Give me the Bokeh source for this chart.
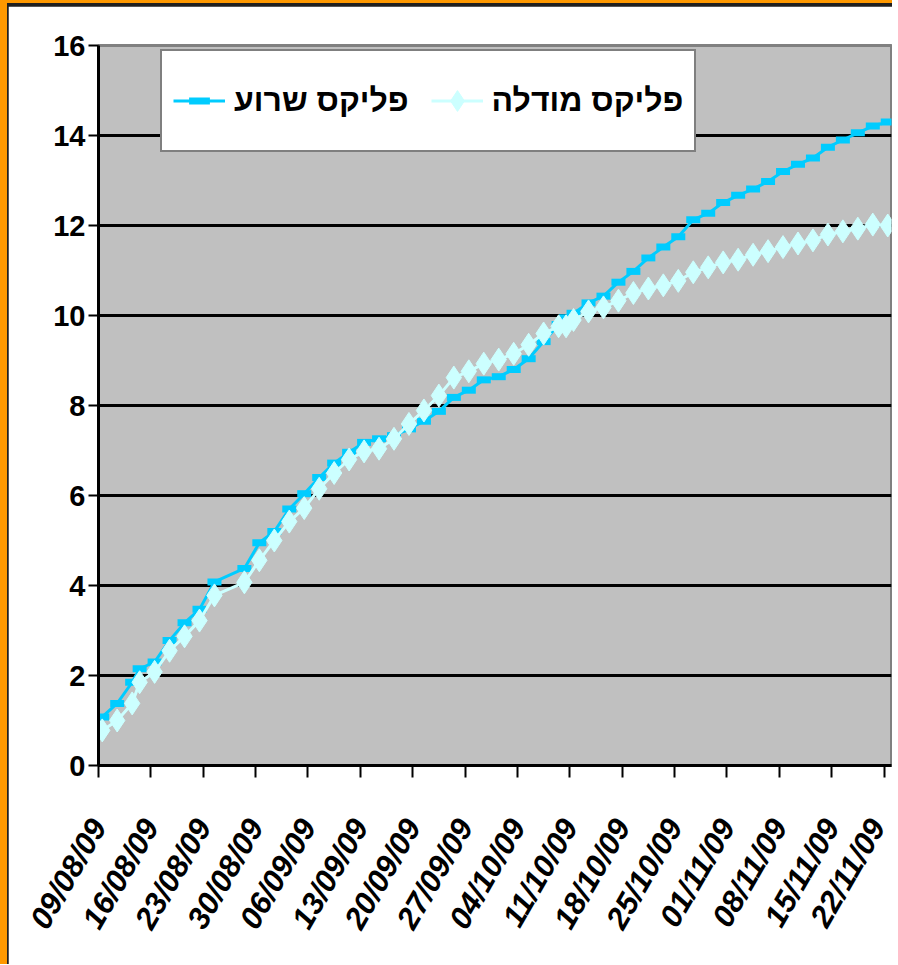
import datetime as dt
from bokeh.plotting import figure
from bokeh.models import Range1d, FixedTicker, Legend, LegendItem
from bokeh.embed import file_html
from bokeh.resources import INLINE

series_a_name = "פליקס שרוע"
series_b_name = "פליקס מודלה"

dates = ["09/08/09", "11/08/09", "13/08/09", "14/08/09", "16/08/09", "18/08/09",
         "20/08/09", "22/08/09", "24/08/09", "28/08/09", "30/08/09", "01/09/09",
         "03/09/09", "05/09/09", "07/09/09", "09/09/09", "11/09/09", "13/09/09",
         "15/09/09", "17/09/09", "19/09/09", "21/09/09", "23/09/09", "25/09/09",
         "27/09/09", "29/09/09", "01/10/09", "03/10/09", "05/10/09", "07/10/09",
         "09/10/09", "10/10/09", "11/10/09", "13/10/09", "15/10/09", "17/10/09",
         "19/10/09", "21/10/09", "23/10/09", "25/10/09", "27/10/09", "29/10/09",
         "31/10/09", "02/11/09", "04/11/09", "06/11/09", "08/11/09", "10/11/09",
         "12/11/09", "14/11/09", "16/11/09", "18/11/09", "20/11/09", "22/11/09"]

series_a = [1.08, 1.38, 1.85, 2.15, 2.30, 2.78, 3.17, 3.47, 4.08, 4.38, 4.95, 5.20,
            5.70, 6.04, 6.40, 6.72, 6.96, 7.18, 7.26, 7.33, 7.48, 7.65, 7.87, 8.18,
            8.34, 8.57, 8.64, 8.80, 9.04, 9.42, 9.80, 9.95, 10.05, 10.28, 10.43, 10.74,
            10.98, 11.28, 11.52, 11.75, 12.13, 12.27, 12.51, 12.67, 12.81, 12.98, 13.20, 13.36,
            13.50, 13.74, 13.90, 14.06, 14.21, 14.30]

series_b = [0.78, 1.00, 1.38, 1.85, 2.08, 2.55, 2.87, 3.22, 3.78, 4.07, 4.56, 5.00,
            5.42, 5.72, 6.15, 6.50, 6.80, 6.98, 7.04, 7.26, 7.59, 7.89, 8.22, 8.62,
            8.76, 8.93, 9.02, 9.15, 9.35, 9.60, 9.76, 9.76, 9.90, 10.09, 10.18, 10.33,
            10.50, 10.60, 10.67, 10.77, 10.96, 11.07, 11.18, 11.24, 11.35, 11.43, 11.52, 11.60,
            11.67, 11.80, 11.87, 11.93, 12.02, 12.00]

tick_labels = ["09/08/09", "16/08/09", "23/08/09", "30/08/09", "06/09/09", "13/09/09",
               "20/09/09", "27/09/09", "04/10/09", "11/10/09", "18/10/09", "25/10/09",
               "01/11/09", "08/11/09", "15/11/09", "22/11/09"]
axis_end_date = "23/11/09"
y_ticks = [0, 2, 4, 6, 8, 10, 12, 14, 16]

start = dt.datetime.strptime(tick_labels[0], "%d/%m/%y")


def day_pos(s, offset=0.0):
    return (dt.datetime.strptime(s, "%d/%m/%y") - start).days + offset


x_vals = [day_pos(d, 0.5) for d in dates]
tick_pos = [int(day_pos(t)) for t in tick_labels]

W, H = 892, 964
p = figure(width=W, height=H, x_range=Range1d(0, day_pos(axis_end_date)),
           y_range=Range1d(0, 16), output_backend="svg", toolbar_location=None,
           min_border_left=90, min_border_right=9, min_border_top=39, min_border_bottom=205,
           background_fill_color="#C0C0C0", border_fill_color="white",
           outline_line_color="#808080", outline_line_width=3)
p.styles = {"border-left": "7px solid #FF9900", "border-top": "3px solid #FF9900",
            "padding-top": "3px", "padding-left": "1px", "background": "#202020"}

# grid
p.xgrid.visible = False
p.ygrid.ticker = FixedTicker(ticks=y_ticks[1:-1])
p.ygrid.grid_line_color = "black"
p.ygrid.grid_line_width = 3

# axes
for ax in (p.xaxis[0], p.yaxis[0]):
    ax.axis_line_color = "black"
    ax.axis_line_width = 3
    ax.major_tick_line_color = "black"
    ax.major_tick_line_width = 2
    ax.major_tick_in = 0
    ax.minor_tick_line_color = None
    ax.major_label_text_color = "black"
    ax.major_label_text_font_style = "bold"

p.yaxis.ticker = FixedTicker(ticks=y_ticks)
p.yaxis.major_tick_out = 10
p.yaxis.major_label_text_font = "Liberation Sans"
p.yaxis.major_label_text_font_size = "29px"
p.yaxis.major_label_standoff = 3

p.xaxis.ticker = FixedTicker(ticks=tick_pos)
p.xaxis.major_label_overrides = {tp: lab for tp, lab in zip(tick_pos, tick_labels)}
p.xaxis.major_tick_out = 12
p.xaxis.major_label_orientation = 1.047
p.xaxis.major_label_text_font = "Liberation Sans"
p.xaxis.major_label_text_font_style = "bold italic"
p.xaxis.major_label_text_font_size = "31px"
p.xaxis.major_label_standoff = 44

# series
line_a = p.line(x_vals, series_a, line_color="#00CCFF", line_width=3)
pts_a = p.scatter(x_vals, series_a, marker="dash", size=14, line_color="#00CCFF", line_width=7)
line_b = p.line(x_vals, series_b, line_color="#CCFFFF", line_width=3)
pts_b = p.scatter(x_vals, series_b, marker="diamond", size=23, fill_color="#CCFFFF",
                  line_color="#CCFFFF", line_width=1)

legend = Legend(items=[LegendItem(label=series_a_name, renderers=[line_a, pts_a]),
                       LegendItem(label=series_b_name, renderers=[line_b, pts_b])],
                location=(62, 613), orientation="horizontal",
                glyph_width=52, glyph_height=77, label_height=77, label_standoff=9,
                spacing=22, padding=11, margin=0,
                label_text_font="Liberation Sans", label_text_font_style="bold",
                label_text_font_size="32px", label_text_color="black",
                border_line_color="black", border_line_width=2,
                background_fill_color="white", background_fill_alpha=1)
p.add_layout(legend)

open("out.html", "w").write(file_html(p, INLINE))
